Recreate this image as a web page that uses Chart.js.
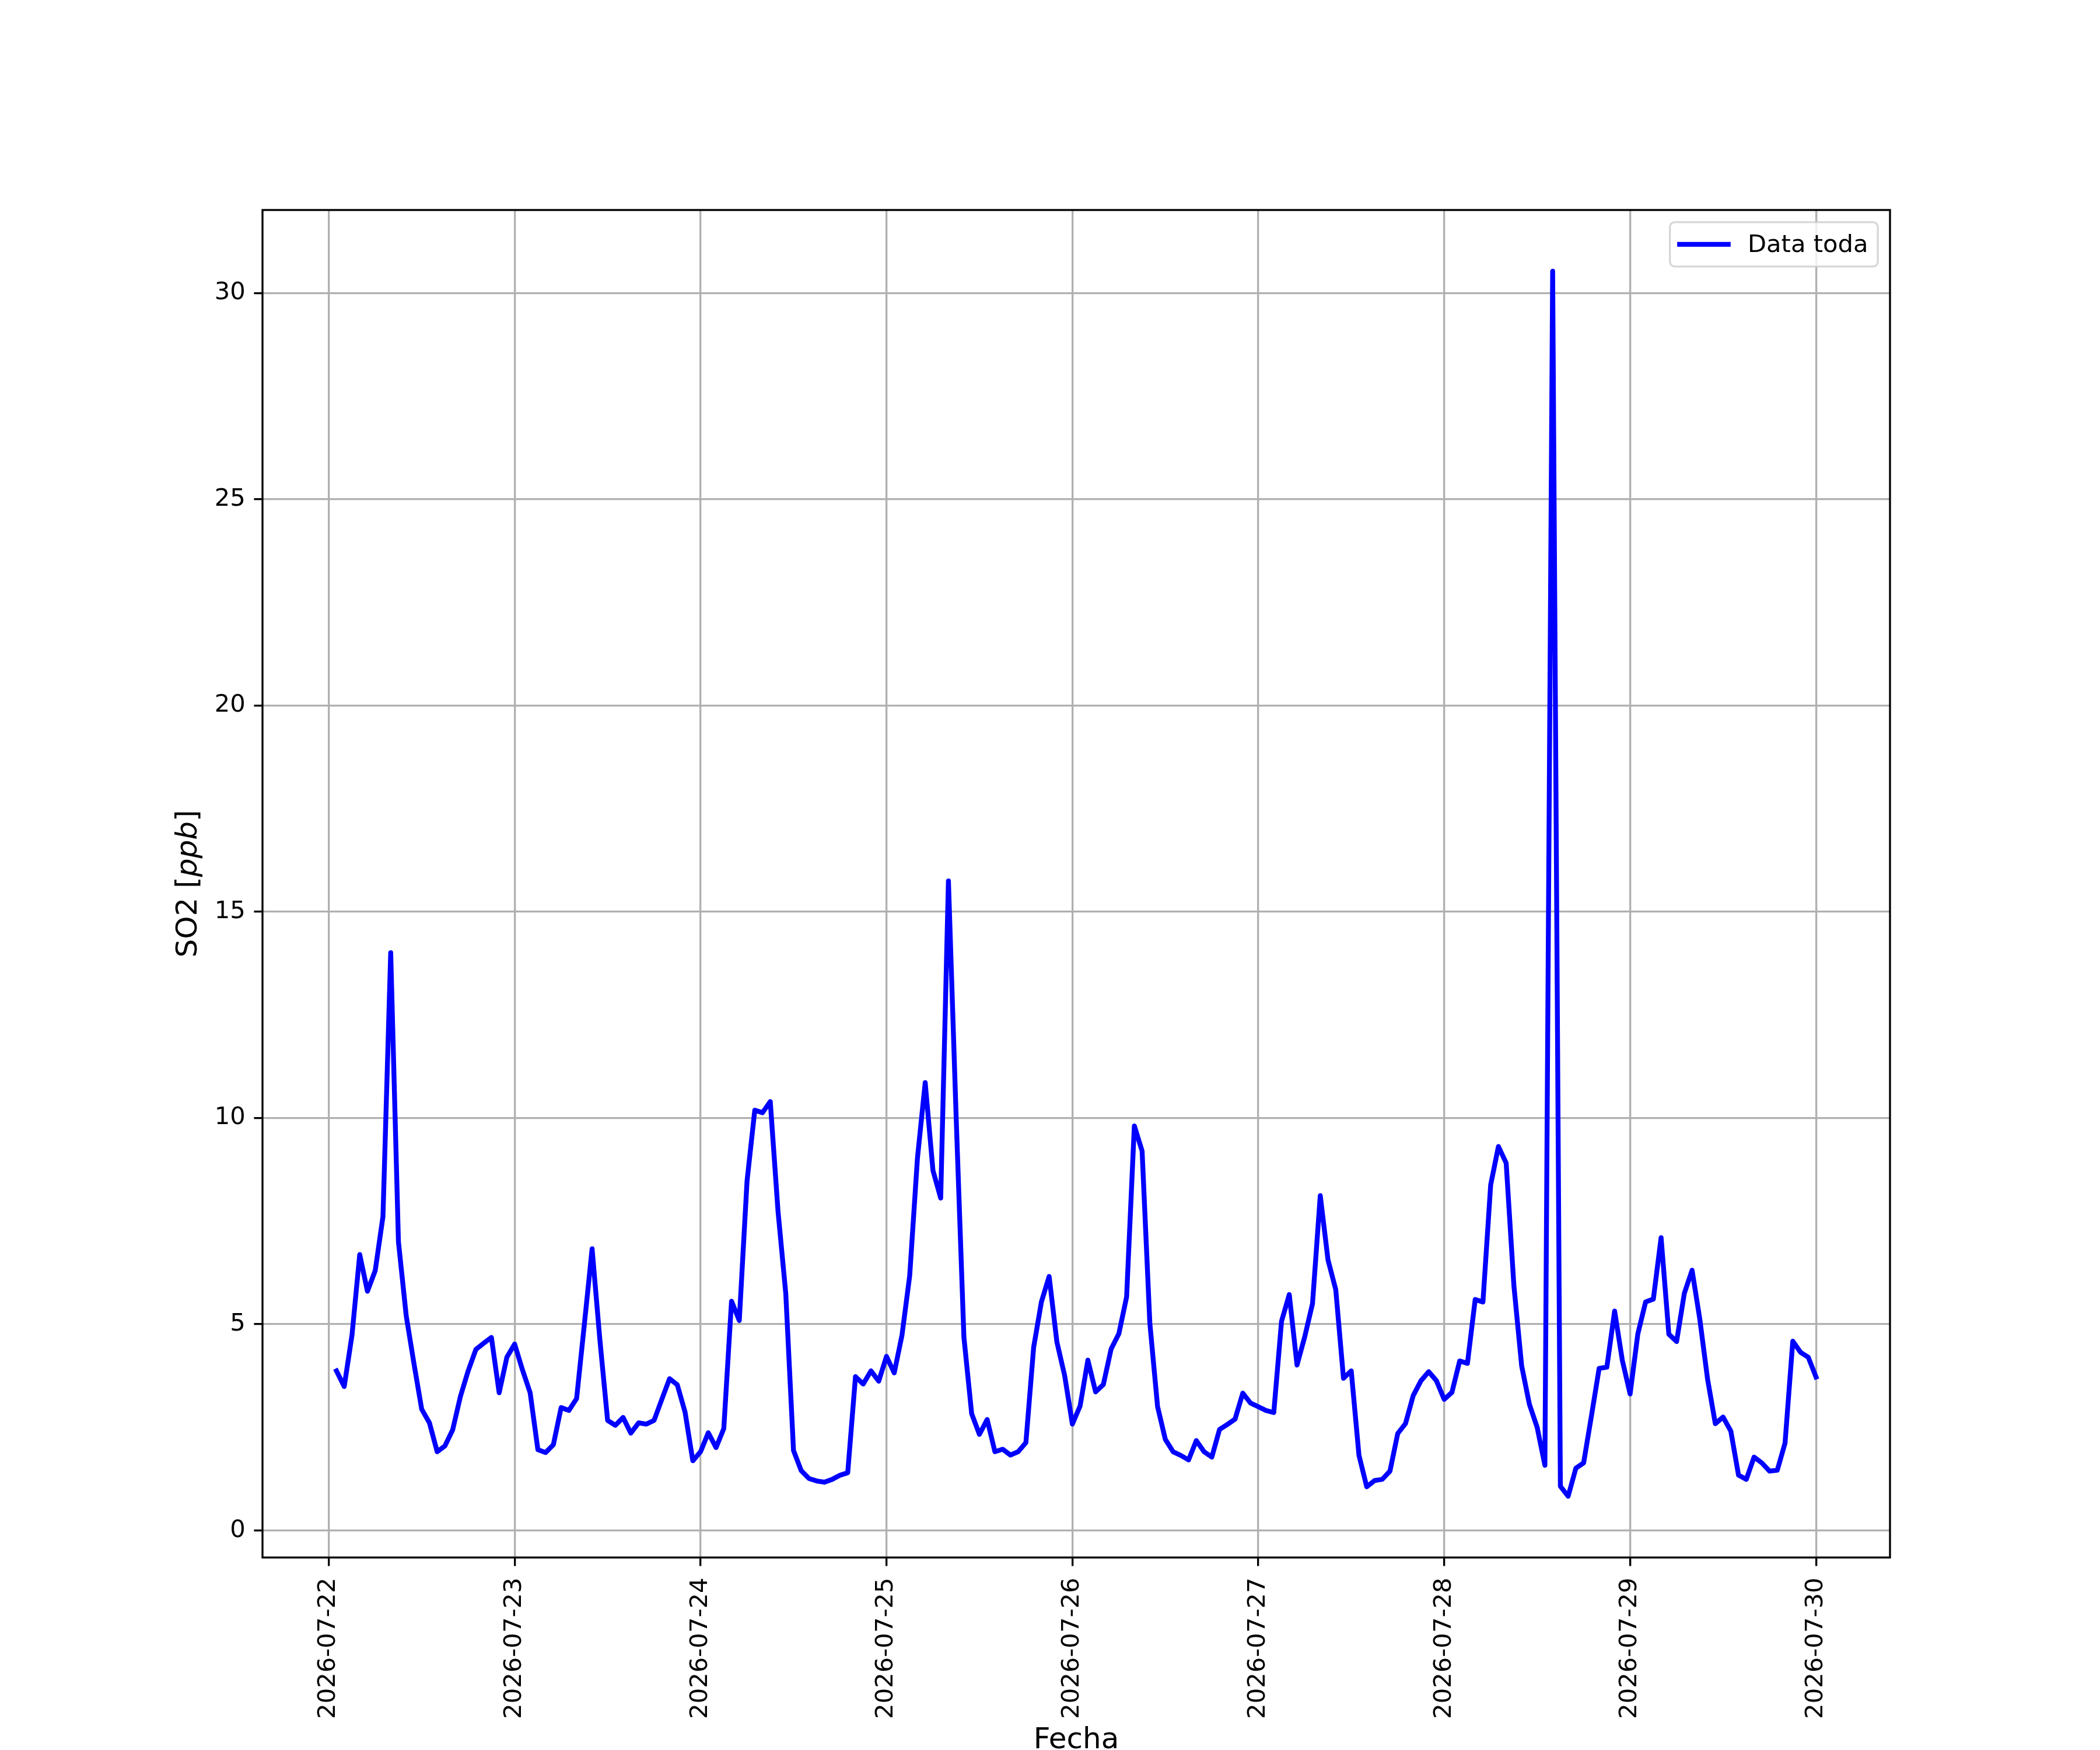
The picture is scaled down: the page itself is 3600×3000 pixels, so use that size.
<!DOCTYPE html>
<html>
<head>
<meta charset="utf-8">
<script src="https://cdn.jsdelivr.net/npm/chart.js@4.4.1/dist/chart.umd.min.js"></script>
<style>
  html, body { margin: 0; padding: 0; background: #fff; }
  canvas { display: block; }
</style>
</head>
<body>
<canvas id="so2Chart" width="3600" height="3000" style="width:3600px;height:3000px"></canvas>
<script>
// hourly SO2 readings, first sample at 2026-07-22 01:00
const firstHour = 1;
const so2 = [
  3.87, 3.49, 4.73, 6.69, 5.80, 6.30, 7.61, 14.01, 7.00, 5.21, 4.05, 2.94,
  2.61, 1.91, 2.05, 2.44, 3.25, 3.87, 4.39, 4.54, 4.68, 3.34, 4.20, 4.52,
  3.90, 3.34, 1.96, 1.89, 2.08, 2.98, 2.91, 3.20, 5.00, 6.83, 4.63, 2.67,
  2.55, 2.74, 2.36, 2.61, 2.58, 2.67, 3.18, 3.68, 3.53, 2.87, 1.69, 1.91,
  2.37, 2.01, 2.47, 5.56, 5.09, 8.47, 10.19, 10.13, 10.40, 7.74, 5.75, 1.94,
  1.45, 1.26, 1.20, 1.17, 1.24, 1.34, 1.40, 3.73, 3.55, 3.87, 3.62, 4.22,
  3.82, 4.73, 6.18, 9.03, 10.86, 8.73, 8.06, 15.75, 10.00, 4.68, 2.83, 2.33,
  2.69, 1.91, 1.97, 1.83, 1.91, 2.13, 4.44, 5.54, 6.16, 4.57, 3.76, 2.58,
  3.02, 4.13, 3.36, 3.54, 4.40, 4.77, 5.66, 9.81, 9.20, 5.03, 3.00, 2.21,
  1.91, 1.82, 1.71, 2.18, 1.91, 1.78, 2.45, 2.57, 2.70, 3.33, 3.09, 3.00,
  2.91, 2.86, 5.07, 5.72, 4.01, 4.70, 5.50, 8.12, 6.56, 5.84, 3.69, 3.87,
  1.82, 1.06, 1.21, 1.24, 1.44, 2.35, 2.59, 3.27, 3.63, 3.85, 3.63, 3.18,
  3.35, 4.11, 4.05, 5.60, 5.54, 8.38, 9.31, 8.91, 5.93, 3.99, 3.06, 2.50,
  1.58, 30.53, 1.07, 0.83, 1.51, 1.64, 2.77, 3.93, 3.96, 5.32, 4.12, 3.31,
  4.77, 5.54, 5.61, 7.10, 4.76, 4.58, 5.75, 6.31, 5.12, 3.67, 2.59, 2.75,
  2.41, 1.34, 1.24, 1.78, 1.64, 1.44, 1.46, 2.12, 4.59, 4.32, 4.20, 3.72
];
const fechas = ['2026-07-22', '2026-07-23', '2026-07-24', '2026-07-25', '2026-07-26',
                '2026-07-27', '2026-07-28', '2026-07-29', '2026-07-30'];
const yTicks = [0, 5, 10, 15, 20, 25, 30];
const seriesLabel = 'Data toda';

const PT = 300 / 72;           // points -> px at 300 dpi
const FONT = "'DejaVu Sans', 'Liberation Sans', sans-serif";

const points = so2.map((v, i) => ({ x: firstHour + i, y: v }));

// matplotlib-like 5% margins
const xs = points.map(p => p.x);
const xMin = Math.min(...xs), xMax = Math.max(...xs);
const yMin = Math.min(...so2), yMax = Math.max(...so2);
const xPad = 0.05 * (xMax - xMin), yPad = 0.05 * (yMax - yMin);

const framePlugin = {
  id: 'frame',
  afterDraw(chart) {
    const { ctx, chartArea: a } = chart;
    ctx.save();
    // spines
    ctx.strokeStyle = '#000';
    ctx.lineWidth = 0.8 * PT;
    ctx.strokeRect(a.left, a.top, a.right - a.left, a.bottom - a.top);

    // legend (upper right)
    const ds = chart.data.datasets[0];
    const fs = 10 * PT;
    ctx.font = fs + 'px ' + FONT;
    const textW = ctx.measureText(ds.label).width;
    const pad = 0.4 * fs, handleLen = 2 * fs, gap = 0.8 * fs;
    const boxW = pad * 2 + handleLen + gap + textW;
    const boxH = 76;
    const bx = a.right - 0.5 * fs - boxW;
    const by = a.top + 0.5 * fs;
    ctx.beginPath();
    ctx.roundRect(bx, by, boxW, boxH, 0.2 * fs);
    ctx.fillStyle = 'rgba(255,255,255,0.8)';
    ctx.fill();
    ctx.strokeStyle = 'rgba(204,204,204,0.8)';
    ctx.lineWidth = 0.8 * PT;
    ctx.stroke();
    const cy = by + boxH / 2;
    ctx.beginPath();
    ctx.moveTo(bx + pad, cy);
    ctx.lineTo(bx + pad + handleLen, cy);
    ctx.strokeStyle = ds.borderColor;
    ctx.lineWidth = ds.borderWidth;
    ctx.lineCap = 'square';
    ctx.stroke();
    ctx.fillStyle = '#000';
    ctx.textBaseline = 'middle';
    ctx.textAlign = 'left';
    ctx.fillText(ds.label, bx + pad + handleLen + gap, cy + 2);

    // y axis title: SO2 [ppb] with ppb in italics
    const ls = 12 * PT;
    const parts = [['SO2 [', 'normal'], ['ppb', 'oblique'], [']', 'normal']];
    const widths = parts.map(([t, st]) => {
      ctx.font = st + ' ' + ls + 'px ' + FONT;
      return ctx.measureText(t).width;
    });
    const total = widths.reduce((s, w) => s + w, 0);
    ctx.translate(337, (a.top + a.bottom) / 2);
    ctx.rotate(-Math.PI / 2);
    ctx.textBaseline = 'alphabetic';
    let tx = -total / 2;
    parts.forEach(([t, st], i) => {
      ctx.font = st + ' ' + ls + 'px ' + FONT;
      ctx.fillText(t, tx, 0);
      tx += widths[i];
    });
    ctx.restore();
  }
};

new Chart(document.getElementById('so2Chart'), {
  type: 'line',
  data: {
    datasets: [{
      label: seriesLabel,
      data: points,
      borderColor: '#0000ff',
      borderWidth: 2 * PT,
      borderJoinStyle: 'round',
      borderCapStyle: 'square',
      pointRadius: 0,
      tension: 0,
      fill: false
    }]
  },
  options: {
    responsive: false,
    devicePixelRatio: 1,
    animation: false,
    layout: { padding: { left: 0, right: 360, top: 360, bottom: 0 } },
    plugins: {
      legend: { display: false },
      title: { display: false },
      tooltip: { enabled: false }
    },
    scales: {
      x: {
        type: 'linear',
        min: xMin - xPad,
        max: xMax + xPad,
        afterBuildTicks: axis => { axis.ticks = fechas.map((f, i) => ({ value: i * 24 })); },
        afterFit: axis => { axis.height = 330; },
        border: { display: false },
        grid: {
          color: '#b0b0b0',
          lineWidth: 0.8 * PT,
          tickColor: '#000',
          tickWidth: 0.8 * PT,
          tickLength: 3.5 * PT
        },
        ticks: {
          autoSkip: false,
          minRotation: 90,
          maxRotation: 90,
          padding: 20,
          color: '#000',
          font: { family: FONT, size: 10 * PT },
          callback: value => fechas[Math.round(value / 24)]
        },
        title: {
          display: true,
          text: 'Fecha',
          color: '#000',
          padding: 0,
          font: { family: FONT, size: 12 * PT, lineHeight: 0.65 }
        }
      },
      y: {
        type: 'linear',
        min: yMin - yPad,
        max: yMax + yPad,
        afterBuildTicks: axis => { axis.ticks = yTicks.map(v => ({ value: v })); },
        afterFit: axis => { axis.width = 450; },
        border: { display: false },
        grid: {
          color: '#b0b0b0',
          lineWidth: 0.8 * PT,
          tickColor: '#000',
          tickWidth: 0.8 * PT,
          tickLength: 3.5 * PT
        },
        ticks: {
          padding: 3.5 * PT,
          color: '#000',
          font: { family: FONT, size: 10 * PT },
          callback: value => String(value)
        }
      }
    }
  },
  plugins: [framePlugin]
});
</script>
</body>
</html>
